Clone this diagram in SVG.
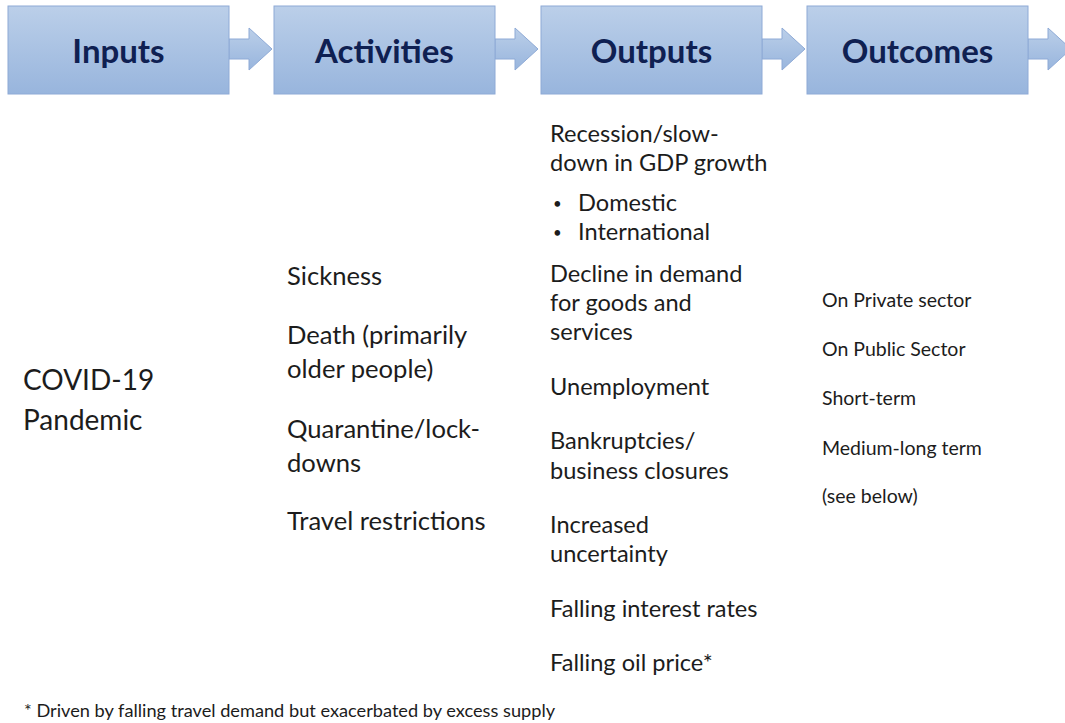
<svg xmlns="http://www.w3.org/2000/svg" width="1065" height="723" viewBox="0 0 1065 723">
  <defs>
    <linearGradient id="stageFill" x1="0" y1="0" x2="0" y2="1">
      <stop offset="0" stop-color="#bbcfe9"/>
      <stop offset="1" stop-color="#98b5dd"/>
    </linearGradient>
    <style>
      .stage { fill: url(#stageFill); stroke: #8eaad6; stroke-width: 1; }
      .flow { fill: url(#stageFill); stroke: #8eaad6; stroke-width: 1; stroke-linejoin: miter; }
      .head { font-family: Lato, "Liberation Sans", sans-serif; font-weight: 700; font-size: 33px; fill: #0f2052; text-anchor: middle; }
      .body { font-family: Lato, "Liberation Sans", sans-serif; font-size: 23.6px; fill: #1c1c1c; }
      .act { font-size: 25.6px; }
      .big { font-size: 28px; }
      .small { font-size: 19.5px; }
      .dot { font-size: 15px; }
      .note { font-family: Lato, "Liberation Sans", sans-serif; font-size: 18.2px; fill: #1c1c1c; }
    </style>
  </defs>
  <rect width="1065" height="723" fill="#ffffff"/>

  <!-- block arrows linking the stages -->
  <g id="connectors">
    <polygon class="flow" points="229,39 249,39 249,28 272,49 249,70 249,59 229,59"/>
    <polygon class="flow" points="495,39 515,39 515,28 538,49 515,70 515,59 495,59"/>
    <polygon class="flow" points="762,39 782,39 782,28 805,49 782,70 782,59 762,59"/>
    <polygon class="flow" points="1028,39 1048,39 1048,28 1071,49 1048,70 1048,59 1028,59"/>
  </g>

  <g id="inputs">
    <rect class="stage" x="8" y="6" width="221" height="88"/>
    <text class="head" x="118.5" y="63">Inputs</text>
    <text class="body big" x="23" y="390">COVID-19</text>
    <text class="body big" x="23" y="430">Pandemic</text>
  </g>

  <g id="activities">
    <rect class="stage" x="274" y="6" width="221" height="88"/>
    <text class="head" x="384.5" y="63">Activities</text>
    <text class="body act" x="287" y="285">Sickness</text>
    <text class="body act" x="287" y="344">Death (primarily</text>
    <text class="body act" x="287" y="378">older people)</text>
    <text class="body act" x="287" y="438">Quarantine/lock-</text>
    <text class="body act" x="287" y="472">downs</text>
    <text class="body act" x="287" y="530">Travel restrictions</text>
  </g>

  <g id="outputs">
    <rect class="stage" x="541" y="6" width="221" height="88"/>
    <text class="head" x="651.5" y="63">Outputs</text>
    <text class="body" x="550" y="142">Recession/slow-</text>
    <text class="body" x="550" y="171">down in GDP growth</text>
    <text class="body dot" x="553" y="209">•</text>
    <text class="body" x="578" y="211">Domestic</text>
    <text class="body dot" x="553" y="238">•</text>
    <text class="body" x="578" y="240">International</text>
    <text class="body" x="550" y="282">Decline in demand</text>
    <text class="body" x="550" y="311">for goods and</text>
    <text class="body" x="550" y="340">services</text>
    <text class="body" x="550" y="395">Unemployment</text>
    <text class="body" x="550" y="449">Bankruptcies/</text>
    <text class="body" x="550" y="479">business closures</text>
    <text class="body" x="550" y="533">Increased</text>
    <text class="body" x="550" y="562">uncertainty</text>
    <text class="body" x="550" y="617">Falling interest rates</text>
    <text class="body" x="550" y="671">Falling oil price*</text>
  </g>

  <g id="outcomes">
    <rect class="stage" x="807" y="6" width="221" height="88"/>
    <text class="head" x="917.5" y="63">Outcomes</text>
    <text class="body small" x="822" y="307">On Private sector</text>
    <text class="body small" x="822" y="356">On Public Sector</text>
    <text class="body small" x="822" y="405">Short-term</text>
    <text class="body small" x="822" y="455">Medium-long term</text>
    <text class="body small" x="822" y="503">(see below)</text>
  </g>

  <g id="footnote">
    <text class="note" x="24" y="717">* Driven by falling travel demand but exacerbated by excess supply</text>
  </g>
</svg>
